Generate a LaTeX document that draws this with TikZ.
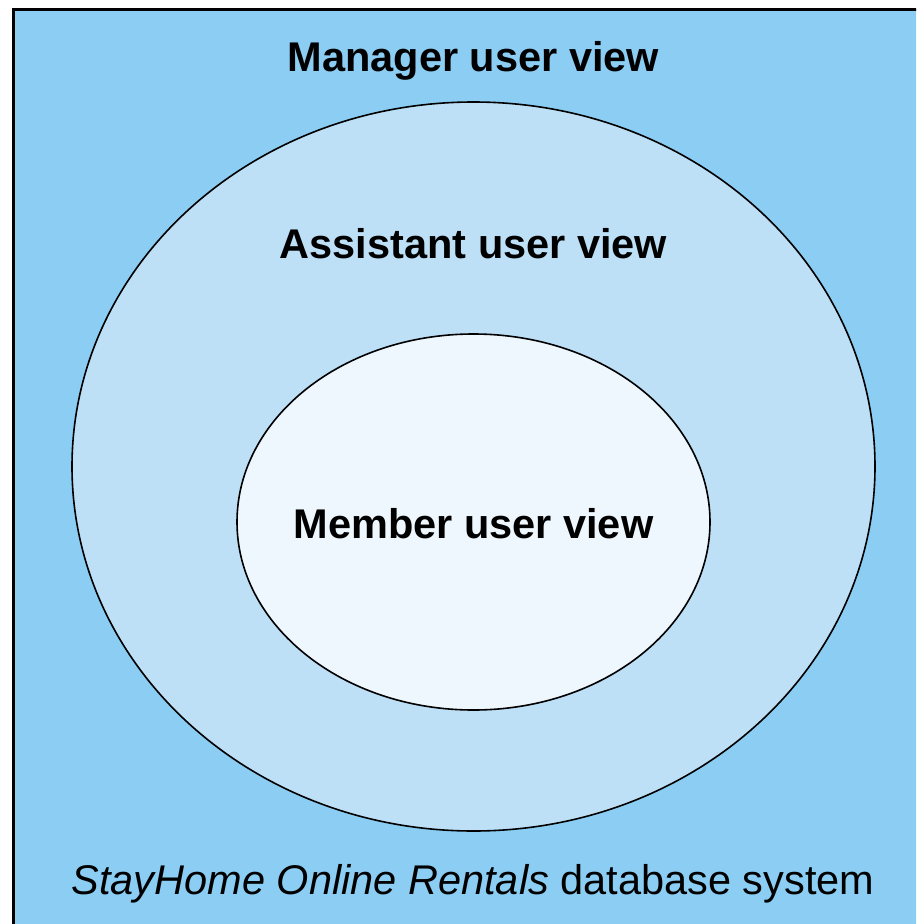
\documentclass[tikz,border=0pt]{standalone}
\usepackage{fontspec}
\setmainfont{Liberation Sans}
\definecolor{outerblue}{HTML}{8BCDF3}
\definecolor{midblue}{HTML}{BEE0F7}
\definecolor{innerblue}{HTML}{EEF7FD}
\begin{document}
\begin{tikzpicture}[x=1pt,y=-1pt,
  viewlabel/.style={font=\fontsize{41.5}{44}\selectfont\bfseries, inner sep=0pt, anchor=base},
  ell/.style={draw=black, line width=1.6pt}]
\useasboundingbox (0,0) rectangle (916,924);
\fill[white] (0,0) rectangle (916,924);
\begin{scope}
\clip (0,0) rectangle (916,924);
\draw[fill=outerblue, line width=3pt] (13,9) rectangle (940,950);
\end{scope}
\draw[ell, fill=midblue] (473.5,466.5) ellipse [x radius=401.5, y radius=364.5];
\draw[ell, fill=innerblue] (473.5,522) ellipse [x radius=236.5, y radius=188];
\node[viewlabel] (manager) at (473.5,71) {Manager user view};
\node[viewlabel] (assistant) at (473.5,258) {Assistant user view};
\node[viewlabel] (member) at (473.5,538) {Member user view};
\node[font=\fontsize{41.5}{44}\selectfont, inner sep=0pt, anchor=base] (system) at (473,894) {\itshape StayHome Online Rentals\upshape{} database system};
\end{tikzpicture}
\end{document}
